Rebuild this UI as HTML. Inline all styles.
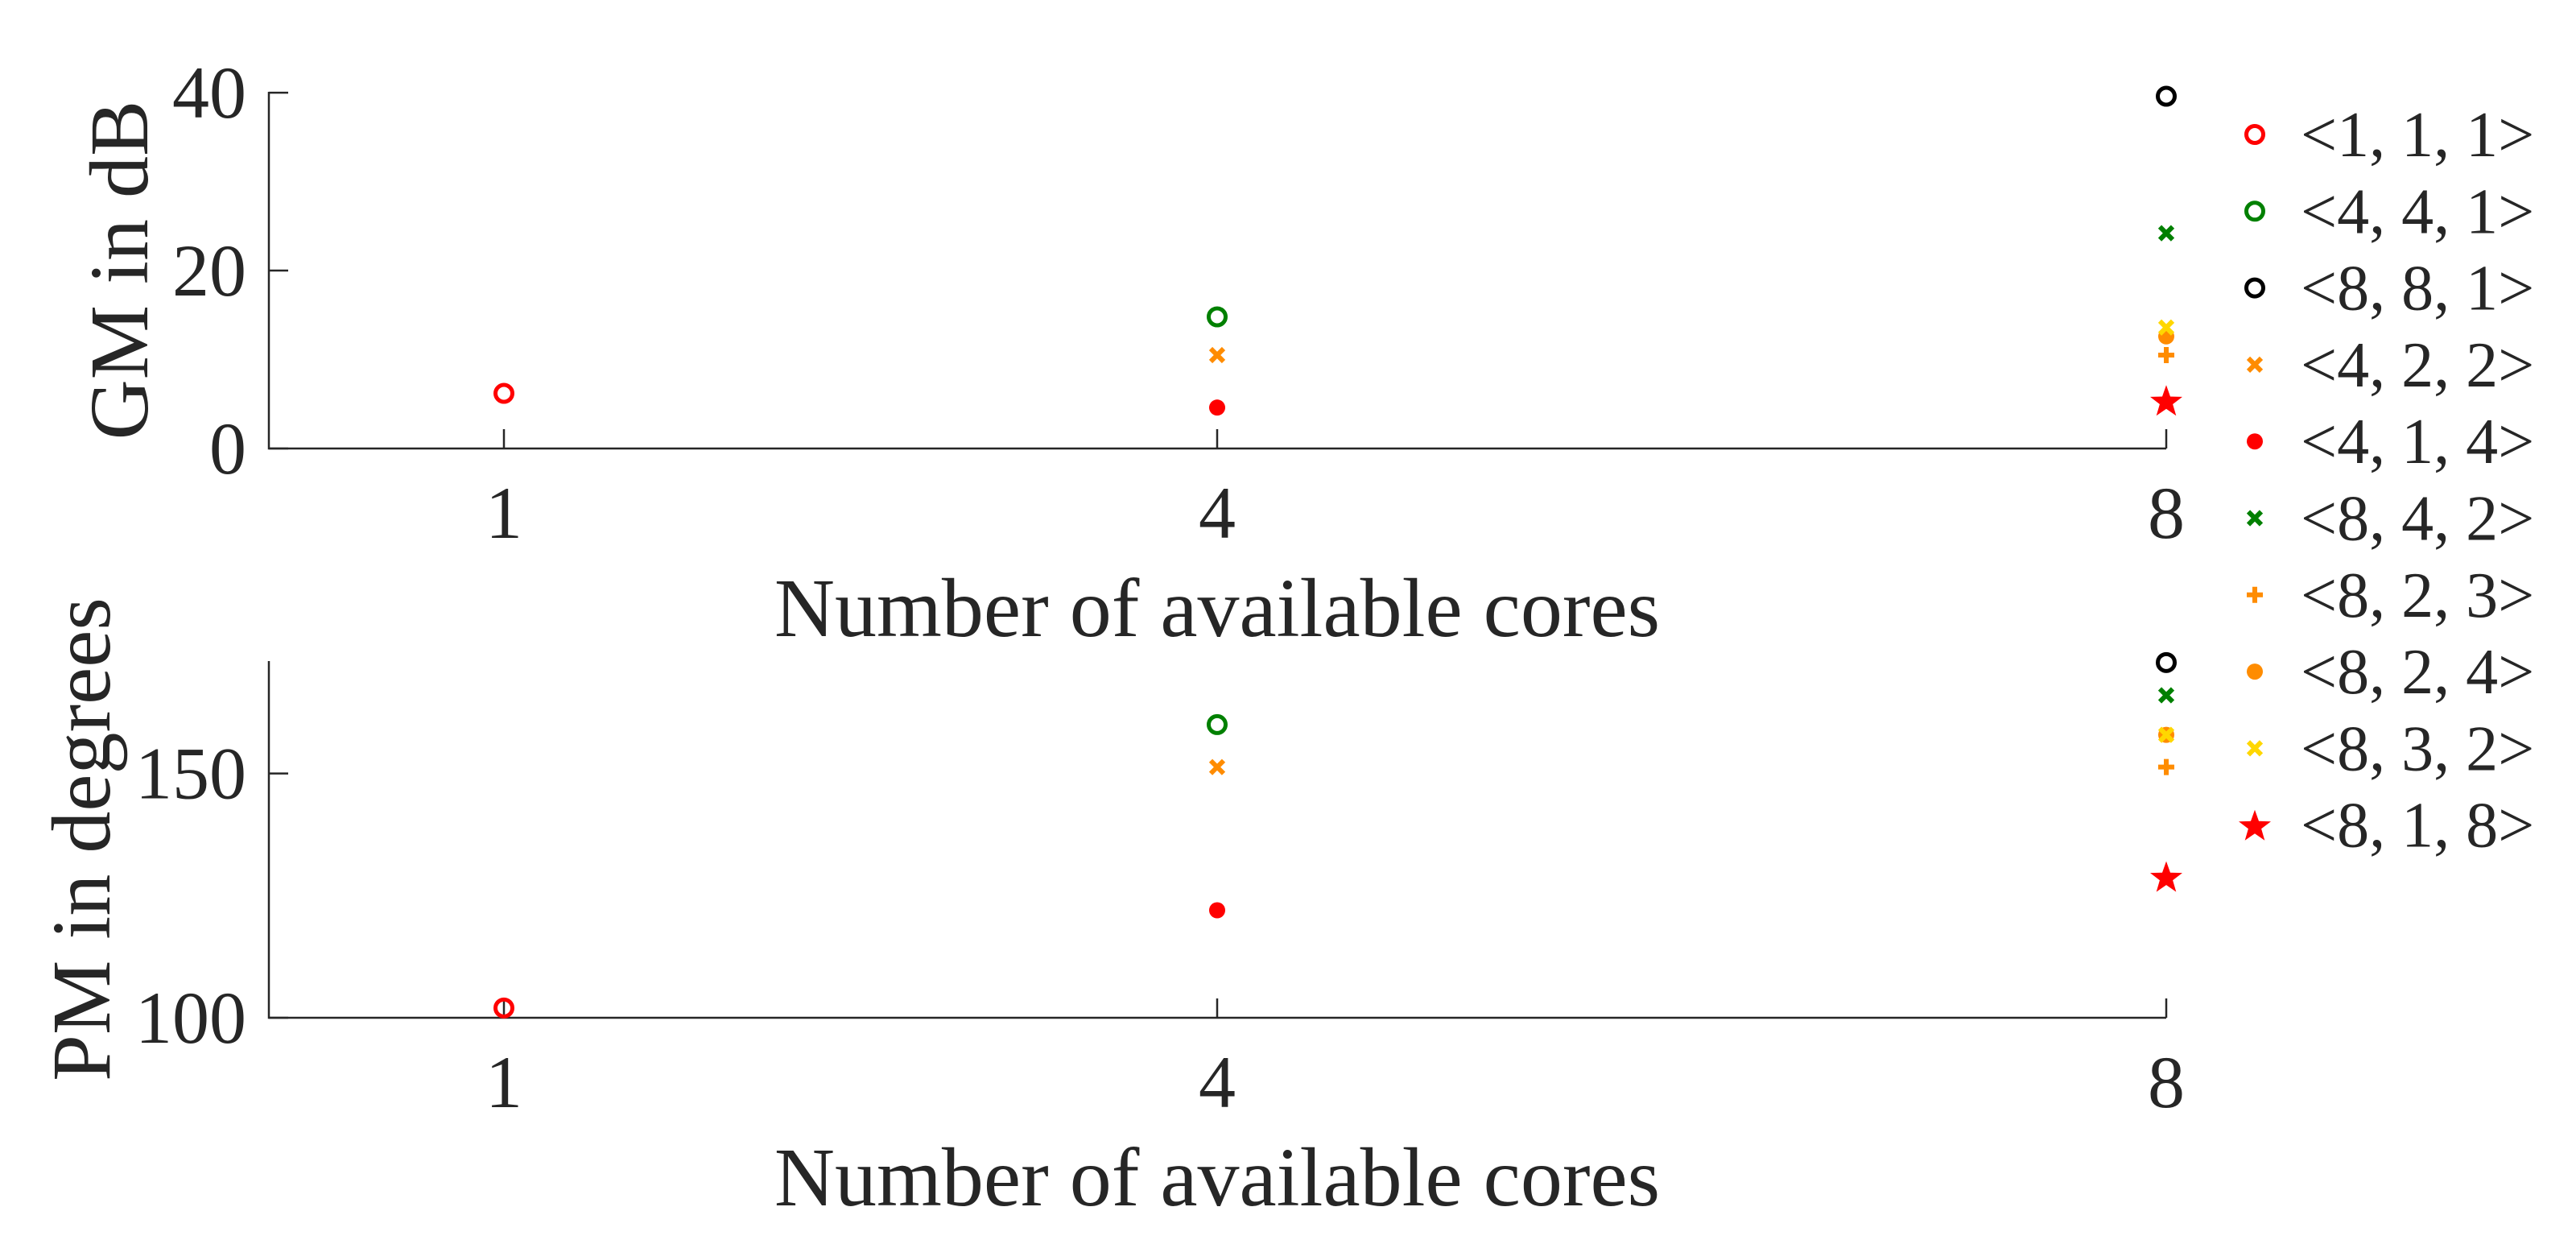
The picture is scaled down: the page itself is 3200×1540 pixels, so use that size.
<!DOCTYPE html>
<html><head><meta charset="utf-8"><style>
html,body{margin:0;padding:0;background:#fff;}
svg{display:block;}
text{font-family:"Liberation Serif",serif;fill:#262626;}
</style></head><body>
<svg id="chart" width="3200" height="1540" viewBox="0 0 3200 1540" xmlns="http://www.w3.org/2000/svg">
<rect width="3200" height="1540" fill="#fff"/>
<g id="top"></g>
<g id="bot"></g>
<g id="legend"></g>
</svg>
<script>
const xCategories = [1, 4, 8];
const seriesNames = ["<1, 1, 1>","<4, 4, 1>","<8, 8, 1>","<4, 2, 2>","<4, 1, 4>","<8, 4, 2>","<8, 2, 3>","<8, 2, 4>","<8, 3, 2>","<8, 1, 8>"];
const seriesX = [1, 4, 8, 4, 4, 8, 8, 8, 8, 8];
const gmValues = [6.2, 14.8, 39.6, 10.5, 4.6, 24.2, 10.5, 12.6, 13.6, 5.4];
const pmValues = [102, 160.0, 172.7, 151.3, 122.0, 166.0, 151.3, 157.9, 157.9, 128.9];
const gmTicks = [0, 20, 40];
const pmTicks = [100, 150];
const gmRange = [0, 40.1];
const pmRange = [100, 173];

const markerStyle = [
 {m:'o',c:'#ff0000'},{m:'o',c:'#008000'},{m:'o',c:'#000000'},{m:'x',c:'#ff8c00'},
 {m:'dot',c:'#ff0000'},{m:'x',c:'#008000'},{m:'+',c:'#ff8c00'},{m:'dot',c:'#ff8c00'},
 {m:'x',c:'#ffd700'},{m:'star',c:'#ff0000'}];
const drawOrder = [0,1,2,3,4,5,6,7,8,9];

const NS = "http://www.w3.org/2000/svg";
function el(tag, attrs, parent){const e=document.createElementNS(NS,tag);for(const k in attrs)e.setAttribute(k,attrs[k]);parent.appendChild(e);return e;}

const X0=334, X1=2691;
const xPos = {1:626, 4:1512, 8:2691};
function xScale(v){return xPos[v];}

function marker(g, type, color, cx, cy, name){
  let e;
  if(type==='o'){e=el('circle',{cx:cx,cy:cy,r:10.5,fill:'none',stroke:color,'stroke-width':5},g);}
  else if(type==='dot'){e=el('circle',{cx:cx,cy:cy,r:10,fill:color},g);}
  else if(type==='x'){const s=8;e=el('path',{d:`M${cx-s},${cy-s}L${cx+s},${cy+s}M${cx-s},${cy+s}L${cx+s},${cy-s}`,stroke:color,'stroke-width':6,fill:'none'},g);}
  else if(type==='+'){const s=10;e=el('path',{d:`M${cx-s},${cy}L${cx+s},${cy}M${cx},${cy-s}L${cx},${cy+s}`,stroke:color,'stroke-width':6,fill:'none'},g);}
  else {let p=[];for(let i=0;i<10;i++){const r=i%2?8.5:21;const a=-Math.PI/2+i*Math.PI/5;p.push((cx+r*Math.cos(a)).toFixed(1)+','+(cy+r*Math.sin(a)+2).toFixed(1));}
    e=el('polygon',{points:p.join(' '),fill:color},g);}
  
  
}

function panel(g, yTop, yBot, range, ticks, values, yLabel, yLabelX, tickBase, xLabelBase, prefix){
  const ys = v => yBot - (v-range[0])/(range[1]-range[0])*(yBot-yTop);
  const ax = el('path',{d:`M${X0},${yTop}L${X0},${yBot}L${X1},${yBot}`,stroke:'#262626','stroke-width':2.5,fill:'none'},g);
  
  
  ticks.forEach(t=>{
    const y=ys(t);
    el('line',{x1:X0,y1:y,x2:X0+24,y2:y,stroke:'#262626','stroke-width':2.5},g);
    const tx=el('text',{x:306,y:y+31,'font-size':92,'text-anchor':'end'},g);
    tx.textContent=t;
    
    
  });
  xCategories.forEach(c=>{
    const x=xScale(c);
    el('line',{x1:x,y1:yBot,x2:x,y2:yBot-24,stroke:'#262626','stroke-width':2.5},g);
    const tx=el('text',{x:x,y:tickBase,'font-size':92,'text-anchor':'middle'},g);
    tx.textContent=c;
    
    
  });
  const xl=el('text',{x:1512,y:xLabelBase,'font-size':104,'text-anchor':'middle'},g);
  xl.textContent='Number of available cores';
  
  
  const yc=(yTop+yBot)/2;
  const yl=el('text',{x:0,y:0,'font-size':104,'text-anchor':'middle',transform:`translate(${yLabelX},${yc}) rotate(-90)`},g);
  yl.textContent=yLabel;
  
  
  drawOrder.forEach(i=>{
    marker(g, markerStyle[i].m, markerStyle[i].c, xScale(seriesX[i]), ys(values[i]), prefix+'-point-'+i);
  });
}
panel(document.getElementById('top'),114,557,gmRange,gmTicks,gmValues,'GM in dB',183,668,790,'gm');
panel(document.getElementById('bot'),821,1264,pmRange,pmTicks,pmValues,'PM in degrees',136,1375,1497,'pm');

const lg=document.getElementById('legend');
seriesNames.forEach((n,i)=>{
  const y=167+i*95.3;
  marker(lg, markerStyle[i].m, markerStyle[i].c, 2801, y, 'legend-marker-'+i);
  const t=el('text',{x:2858,y:y+27,'font-size':80,fill:'#000'},lg);
  t.textContent=n;
  
  
});
</script>
</body></html>
